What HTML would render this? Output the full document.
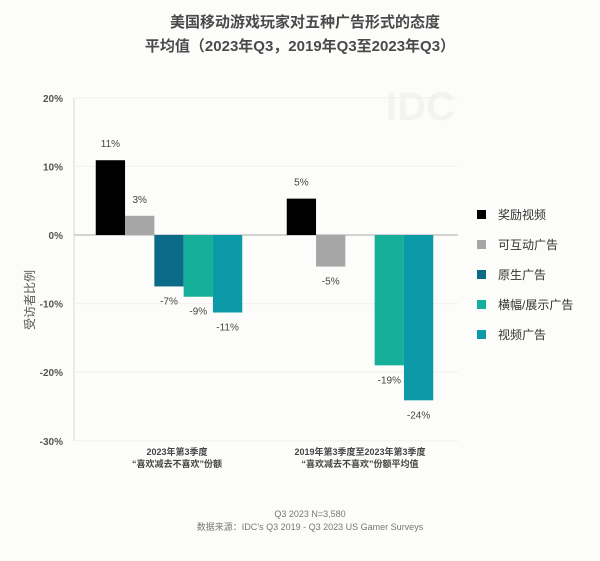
<!DOCTYPE html>
<html><head><meta charset="utf-8">
<style>
body{margin:0;background:#fcfcfa;}
svg text{font-family:"Liberation Sans","Noto Sans CJK SC",sans-serif;}
</style></head>
<body>
<svg width="600" height="556" viewBox="0 0 600 556">
<rect width="600" height="556" fill="#fcfcfa"/>
<text x="305" y="27" text-anchor="middle" font-size="15" font-weight="bold" fill="#4a4a4a">美国移动游戏玩家对五种广告形式的态度</text>
<text x="300" y="51" text-anchor="middle" font-size="15" font-weight="bold" fill="#4a4a4a">平均值（2023年Q3，2019年Q3至2023年Q3）</text>
<text x="386" y="120" font-size="40" fill="#f3f3f1" font-weight="bold">IDC</text>
<g id="grid"></g>
<g id="bars"></g>
<g id="legend"></g>
<text transform="translate(34,300) rotate(-90)" text-anchor="middle" font-size="12" fill="#555">受访者比例</text>
<text x="310" y="517" text-anchor="middle" font-size="9" fill="#777">Q3 2023 N=3,580</text>
<text x="310" y="530" text-anchor="middle" font-size="9" fill="#777">数据来源：IDC’s Q3 2019 - Q3 2023 US Gamer Surveys</text>
</svg>
<script>
const categories=[["2023年第3季度","“喜欢减去不喜欢”份额"],["2019年第3季度至2023年第3季度","“喜欢减去不喜欢”份额平均值"]];
const seriesNames=["奖励视频","可互动广告","原生广告","横幅/展示广告","视频广告"];
const seriesColors=["#000000","#a6a6a6","#0b6a87","#16b09a","#0d9aa8"];
const values2023=[10.9,2.8,-7.5,-9.0,-11.3];
const valuesAvg=[5.3,-4.6,0,-19.0,-24.1];
const labels2023=["11%","3%","-7%","-9%","-11%"];
const labelsAvg=["5%","-5%","","-19%","-24%"];
const yTicks=[20,10,0,-10,-20,-30];
const NS="http://www.w3.org/2000/svg";
const x0=74,x1=458;
function y(v){return 235-(v)*6.86;}
function catCenter(i){return 169+i*191;}
function mk(t,a,p){const e=document.createElementNS(NS,t);for(const k in a)e.setAttribute(k,a[k]);(p||document.querySelector('svg')).appendChild(e);return e;}
const grid=document.getElementById('grid'),bars=document.getElementById('bars'),leg=document.getElementById('legend');
mk('line',{x1:x0,y1:y(20),x2:x0,y2:y(-30),stroke:'#d8d8d8'},grid);
yTicks.forEach(t=>{
 if(t!==0){const l=mk('line',{x1:x0,x2:x1,y1:y(t),y2:y(t),stroke:'#f0f0ee'},grid);
 
 }
 const tx=mk('text',{x:63,y:y(t)+4,'text-anchor':'end','font-size':10,'font-weight':'bold',fill:'#555'},grid);
 tx.textContent=t+'%';
 
 
});
const zl=mk('line',{x1:x0,x2:x1,y1:y(0),y2:y(0),stroke:'#aaa'},grid);


const bw=29.3;
[values2023,valuesAvg].forEach((vals,ci)=>{
 const labs=ci===0?labels2023:labelsAvg;
 const cx=catCenter(ci);
 vals.forEach((v,si)=>{
  const bx=cx-bw*2.5+si*bw;
  const r=mk('rect',{x:bx,y:Math.min(y(v),y(0)),width:bw,height:Math.abs(y(v)-y(0)),fill:seriesColors[si]},bars);
  
  
  if(labs[si]){
   const ly=v>=0?y(v)-13:y(v)+18;
   const t=mk('text',{x:bx+bw/2,y:ly,'text-anchor':'middle','font-size':10,fill:'#444'},bars);
   t.textContent=labs[si];
   
   
  }
 });
 categories[ci].forEach((line,li)=>{
  const t=mk('text',{x:cx+(ci===0?8:0),y:455+li*12,'text-anchor':'middle','font-size':9,'font-weight':'bold',fill:'#444'},bars);
  t.textContent=line;
  
  
 });
});
seriesNames.forEach((n,i)=>{
 const g=mk('g',{},leg);
 
 
 mk('rect',{x:477,y:210+i*30,width:9,height:9,fill:seriesColors[i]},g);
 const t=mk('text',{x:498,y:219+i*30,'font-size':12,fill:'#333'},g);
 t.textContent=n;
});
</script>
</body></html>
